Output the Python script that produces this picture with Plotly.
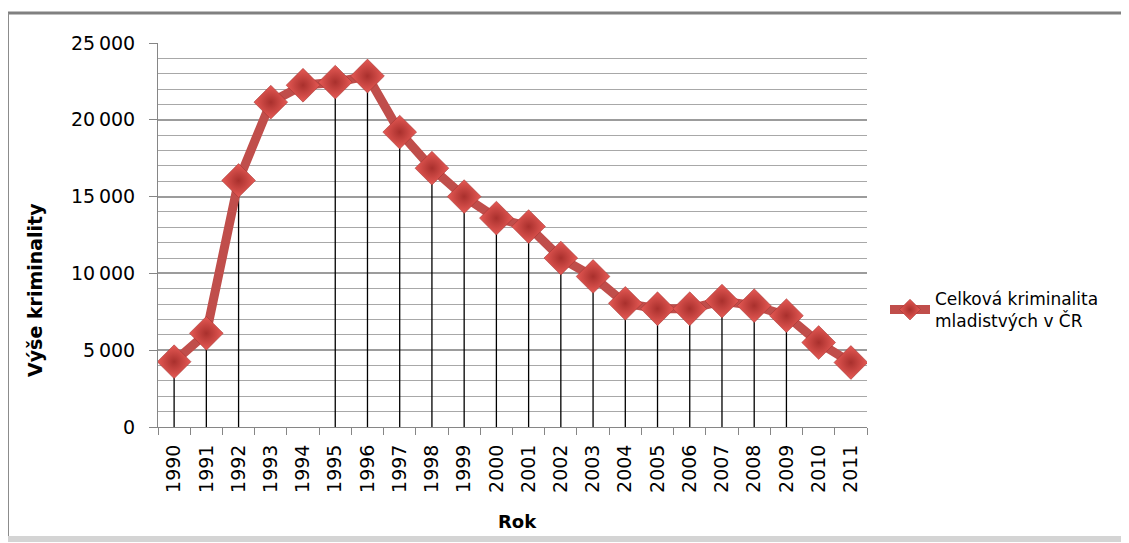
import plotly.graph_objects as go

# Data
roky = ['1990', '1991', '1992', '1993', '1994', '1995', '1996', '1997', '1998', '1999', '2000',
        '2001', '2002', '2003', '2004', '2005', '2006', '2007', '2008', '2009', '2010', '2011']
kriminalita = [4250, 6100, 16050, 21150, 22250, 22450, 22850, 19200, 16850, 15000, 13600,
               13050, 11000, 9800, 8050, 7700, 7700, 8200, 7900, 7250, 5500, 4200]
# years that show a drop line in the reference
roky_svislice = ['1990', '1991', '1992', '1995', '1996', '1997', '1998', '1999', '2000', '2001',
                 '2002', '2003', '2004', '2005', '2006', '2007', '2008', '2009']
y_tickvals = [0, 5000, 10000, 15000, 20000, 25000]
y_ticktext = ['0', '5\u2009000', '10\u2009000', '15\u2009000', '20\u2009000', '25\u2009000']

FONT = 'DejaVu Sans'
LINE_RED = '#C04E4B'

# page body has an 8px margin, so the figure starts at (8, 8)
OFF = 8
FIG_W, FIG_H = 1129 - OFF, 543 - OFF

# plot area in screen pixels (for paper coordinates of decorations)
L, R, T, B = 158, 867, 43, 427
W, H = R - L, B - T


def px(x):
    return (x - L) / W


def py(y):
    return (B - y) / H


# drop lines from point down to the axis
hodnoty = dict(zip(roky, kriminalita))
dx, dy = [], []
for r in roky_svislice:
    dx += [r, r, None]
    dy += [0, hodnoty[r], None]

fig = go.Figure()

fig.add_trace(go.Scatter(
    x=dx, y=dy,
    mode='lines',
    line=dict(color='black', width=1.3),
    showlegend=False,
    hoverinfo='skip'
))

fig.add_trace(go.Scatter(
    x=roky, y=kriminalita,
    mode='lines+markers',
    name='Celková kriminalita<br>mladistvých v ČR',
    line=dict(color=LINE_RED, width=9),
    marker=dict(
        symbol='diamond',
        size=26,
        color='#E65A55',
        gradient=dict(type='radial', color='#A9302D'),
        line=dict(color='#9E2F2C', width=0.5)
    ),
    hovertemplate='<b>%{x}</b><br>%{y:,.0f}<extra></extra>'
))

fig.update_layout(
    width=FIG_W, height=FIG_H,
    paper_bgcolor='white',
    plot_bgcolor='white',
    margin=dict(l=L - OFF, r=FIG_W - (R - OFF), t=T - OFF, b=FIG_H - (B - OFF)),
    font=dict(family=FONT, color='black'),
    legend=dict(
        x=px(885), y=py(281),
        xanchor='left', yanchor='top',
        font=dict(family=FONT, size=17, color='black'),
        bgcolor='rgba(0,0,0,0)',
        itemwidth=40,
        tracegroupgap=0
    ),
    showlegend=True
)

fig.update_xaxes(
    type='category',
    categoryorder='array',
    categoryarray=roky,
    range=[-0.5, len(roky) - 0.5],
    tickson='boundaries',
    ticks='outside',
    ticklen=7,
    tickcolor='#868686',
    ticklabelstandoff=9,
    showline=True,
    linecolor='#868686',
    linewidth=1,
    showgrid=False,
    tickangle=-90,
    tickfont=dict(family=FONT, size=19, color='black'),
    title=''
)

fig.update_yaxes(
    range=[0, 25000],
    tickmode='array',
    tickvals=y_tickvals,
    ticktext=y_ticktext,
    ticks='outside',
    ticklen=8,
    tickcolor='#868686',
    ticklabelstandoff=10,
    showline=True,
    linecolor='#868686',
    linewidth=1,
    showgrid=True,
    gridcolor='#9C9C9C',
    gridwidth=1.5,
    zeroline=False,
    minor=dict(dtick=1000, tick0=0, showgrid=True, gridcolor='#A8A8A8', gridwidth=1.2),
    tickfont=dict(family=FONT, size=19, color='black'),
    title=''
)

# axis titles
fig.add_annotation(
    x=px(35), y=py(290), xref='paper', yref='paper',
    xanchor='center', yanchor='middle',
    text='<b>Výše kriminality</b>', textangle=-90, showarrow=False,
    font=dict(family=FONT, size=19, color='black')
)
fig.add_annotation(
    x=px(517), y=py(521), xref='paper', yref='paper',
    xanchor='center', yanchor='middle',
    text='<b>Rok</b>', showarrow=False,
    font=dict(family=FONT, size=18, color='black')
)

# chart frame
fig.add_shape(type='line', xref='paper', yref='paper',
              x0=px(8), x1=px(1129), y0=py(13), y1=py(13),
              line=dict(color='#808080', width=3))
fig.add_shape(type='line', xref='paper', yref='paper',
              x0=px(8.5), x1=px(8.5), y0=py(13), y1=py(540),
              line=dict(color='#8C8C8C', width=1))
fig.add_shape(type='line', xref='paper', yref='paper',
              x0=px(8), x1=px(1129), y0=py(539), y1=py(539),
              line=dict(color='#D4D4D4', width=6))
fig.add_shape(type='line', xref='paper', yref='paper',
              x0=px(1126), x1=px(1126), y0=py(13), y1=py(540),
              line=dict(color='#EEEEEE', width=4))

fig.write_html('out.html')
